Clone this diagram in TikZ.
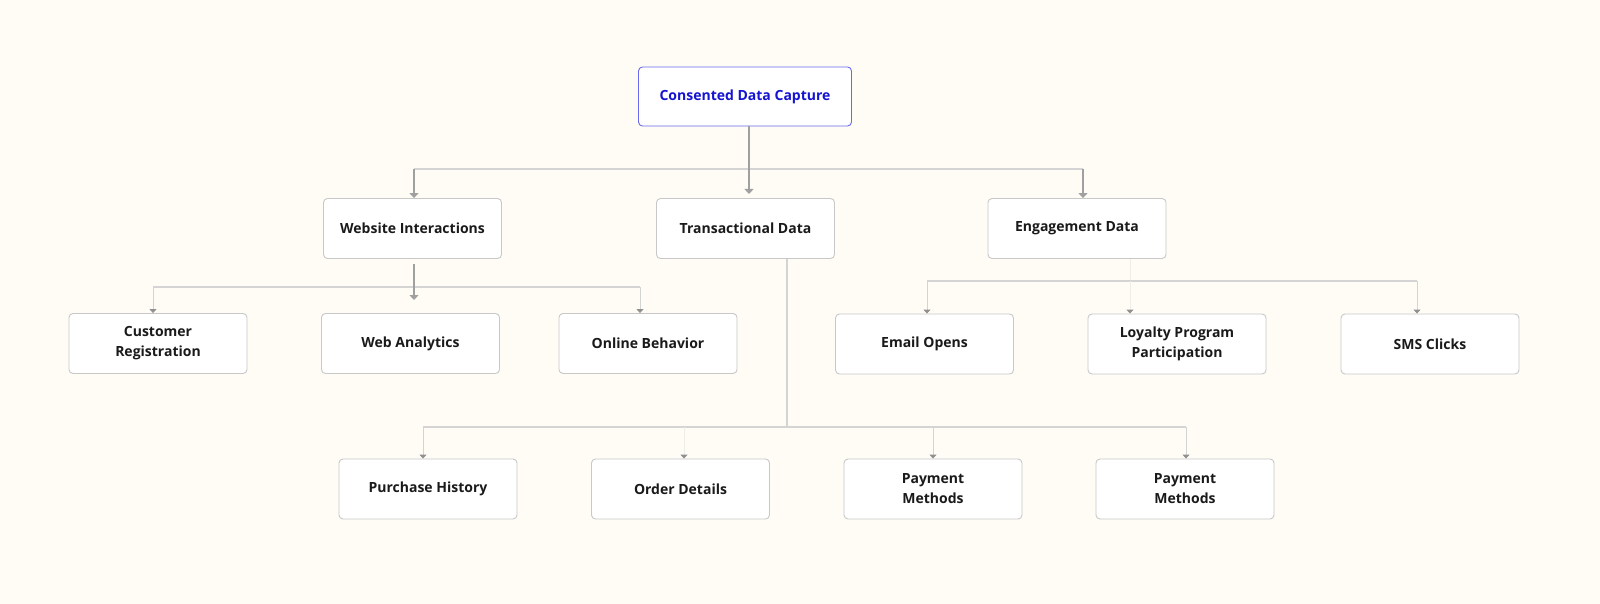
\documentclass[tikz,border=0pt]{standalone}
\usepackage{fontspec}
\setmainfont{Open Sans}
\usepackage{xcolor}
\usetikzlibrary{arrows.meta,positioning,calc}

\definecolor{paper}{HTML}{FEFCF5}
\definecolor{boxline}{HTML}{C8C8C8}
\definecolor{busline}{HTML}{D4D4D4}
\definecolor{faintline}{HTML}{EEEDE8}
\definecolor{tipline}{HTML}{A0A0A0}
\definecolor{rootline}{HTML}{6A6AF0}
\definecolor{roottext}{HTML}{1414D2}
\definecolor{ink}{HTML}{1A1A1A}

\tikzset{
    box/.style={draw=boxline, line width=0.9pt, fill=white, rounded corners=4pt,
        minimum width=178pt, minimum height=60pt, inner sep=2pt, align=center,
        text=ink, font=\bfseries\fontsize{14}{20}\selectfont},
    rootbox/.style={box, draw=rootline, text=roottext, minimum width=213pt, minimum height=59pt},
    bus/.style={draw=busline, line width=1.2pt},
    drop/.style={draw=tipline, line width=1.2pt, -{Triangle[width=9pt,length=5pt]}},
    smalldrop/.style={draw=busline, line width=1pt, -{Triangle[width=7pt,length=4pt,color=tipline!90!black]}},
    faintdrop/.style={smalldrop, draw=faintline},
}

\begin{document}
\begin{tikzpicture}[x=1pt, y=-1pt]
        % Canvas
        \fill[paper] (0,0) rectangle (1600,604);
        \useasboundingbox (0,0) rectangle (1600,604);

        % Root
        \node[rootbox] (root) at (745,96.5) {Consented Data Capture};

        % Level 1
        \node[box] (web) at (412.5,228.5) {Website Interactions};
        \node[box] (trans) at (745.5,228.5) {Transactional Data};
        \node[box] (engage) at (1077,228.5) {Engagement Data};

        % Level 2, website
        \node[box] (custreg) at (158,343.5) {Customer\\Registration};
        \node[box] (analytics) at (410.5,343.5) {Web Analytics};
        \node[box] (behavior) at (648,343.5) {Online Behavior};

        % Level 2, engagement
        \node[box] (email) at (924.5,344) {Email Opens};
        \node[box] (loyalty) at (1177,344) {Loyalty Program\\Participation};
        \node[box] (sms) at (1430,344) {SMS Clicks};

        % Level 3, transactions
        \node[box] (purchase) at (428,489) {Purchase History};
        \node[box] (order) at (680.5,489) {Order Details};
        \node[box] (payA) at (933,489) {Payment\\Methods};
        \node[box] (payB) at (1185,489) {Payment\\Methods};

        % Root to level 1
        \coordinate (busA) at (749,169);
        \draw[bus] (414,169) -- (1083,169);
        \draw[drop] (root.south -| busA) -- (749,194);
        \draw[drop] (414,169) -- (web.north -| 414,194);
        \draw[drop] (1083,169) -- (engage.north -| 1083,194);

        % Website to its children
        \draw[bus] (153,287) -- (640,287);
        \draw[drop] ([yshift=-5pt]web.south -| 414,0) -- (414,300);
        \draw[smalldrop] (153,287) -- (custreg.north -| 153,301);
        \draw[smalldrop] (640,287) -- (behavior.north -| 640,301);

        % Engagement to its children
        \draw[faintline, line width=0.8pt] (engage.south -| 1130,0) -- (1130,281);
        \draw[bus] (927,281) -- (1417,281);
        \draw[smalldrop] (927,281) -- (email.north -| 927,293);
        \draw[faintdrop] (1130,281) -- (loyalty.north -| 1130,293);
        \draw[smalldrop] (1417,281) -- (sms.north -| 1417,293);

        % Transactions to their children
        \draw[bus] (trans.south -| 787,0) -- (787,427);
        \draw[bus] (423,427) -- (1186,427);
        \draw[smalldrop] (423,427) -- (purchase.north -| 423,440);
        \draw[faintdrop] (684,427) -- (order.north -| 684,440);
        \draw[smalldrop] (933,427) -- (payA.north -| 933,440);
        \draw[smalldrop] (1186,427) -- (payB.north -| 1186,440);
    \end{tikzpicture}
\end{document}
